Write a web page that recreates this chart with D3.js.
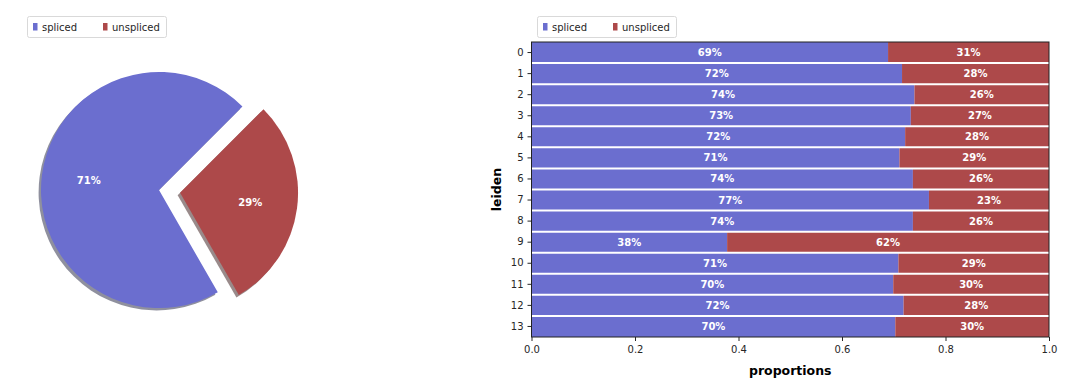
<!DOCTYPE html>
<html>
  <head>
    <meta charset="utf-8">
    <title>spliced / unspliced</title>
    <style>
      body { margin: 0; background: #fff; }
      text { font-family: "DejaVu Sans", sans-serif; }
      .tick text { font-size: 10px; fill: #262626; }
      .tick line { stroke: #262626; }
      .barLabel { fill: #fff; font-size: 10px; font-weight: bold; text-anchor: middle; }
      .pieLabel { fill: #fff; font-size: 10px; font-weight: bold; text-anchor: middle; }
      .axisTitle { font-size: 12.5px; font-weight: bold; fill: #000; text-anchor: middle; }
      .legText { font-size: 10px; fill: #262626; }
    </style>
  </head>
  <body>
    <svg id="chart"></svg>
    <script src="https://cdn.jsdelivr.net/npm/d3@7/dist/d3.min.js"></script>
    <script>
    var width = 1080;
    var height = 384;

    // data
    var layers = ["spliced", "unspliced"];
    var colors = ["#6b6ecf", "#ad494a"];
    var pieValues = [0.708, 0.292];
    var clusters = ["0", "1", "2", "3", "4", "5", "6", "7", "8", "9", "10", "11", "12", "13"];
    var splicedProp = [0.689, 0.716, 0.740, 0.733, 0.722, 0.711, 0.737, 0.768, 0.737, 0.378, 0.709, 0.699, 0.719, 0.703];
    var unsplicedProp = splicedProp.map(function(d) { return 1 - d; });
    var xTicks = [0, 0.2, 0.4, 0.6, 0.8, 1.0];

    var svg = d3.select("#chart")
        .attr("width", width)
        .attr("height", height);

    var fmtPct = d3.format(".0%");

    // legend
    function legend(x, y) {
      var g = svg.append("g").attr("transform", "translate(" + x + "," + y + ")");
      g.append("rect")
          .attr("x", 0.5).attr("y", 0.5)
          .attr("width", 139).attr("height", 21)
          .attr("rx", 2)
          .attr("fill", "#fff")
          .attr("stroke", "#d9d9d9");
      var offs = [6, 76];
      layers.forEach(function(name, i) {
        g.append("rect")
            .attr("x", offs[i]).attr("y", 7)
            .attr("width", 4.5).attr("height", 7.5)
            .attr("fill", colors[i]);
        g.append("text")
            .attr("class", "legText")
            .attr("x", offs[i] + 9).attr("y", 14.5)
            .text(name);
      });
    }
    legend(27, 16);
    legend(537, 16);

    // pie
    var cx = 159, cy = 190, r = 118, explode = [0, 0.18];
    var startDeg = 45;
    var pie = d3.pie().sort(null)
        .startAngle((90 - startDeg) * Math.PI / 180)
        .endAngle((90 - startDeg - 360) * Math.PI / 180);
    var arcs = pie(pieValues);
    var arc = d3.arc().innerRadius(0).outerRadius(r);

    function offset(d, i) {
      var mid = (d.startAngle + d.endAngle) / 2;
      return [Math.sin(mid) * explode[i] * r, -Math.cos(mid) * explode[i] * r];
    }

    var pieG = svg.append("g").attr("transform", "translate(" + cx + "," + cy + ")");

    // shadows
    pieG.selectAll(".shadow")
        .data(arcs)
        .enter()
        .append("path")
        .attr("class", "shadow")
        .attr("d", arc)
        .attr("fill", function(d, i) {
          var c = d3.rgb(colors[i]);
          return d3.rgb(c.r * 0.3, c.g * 0.3, c.b * 0.3);
        })
        .attr("opacity", 0.5)
        .attr("transform", function(d, i) {
          var o = offset(d, i);
          return "translate(" + (o[0] - 2.4) + "," + (o[1] + 2.4) + ")";
        });

    pieG.selectAll(".wedge")
        .data(arcs)
        .enter()
        .append("path")
        .attr("class", "wedge")
        .attr("d", arc)
        .attr("fill", function(d, i) { return colors[i]; })
        .attr("transform", function(d, i) {
          var o = offset(d, i);
          return "translate(" + o[0] + "," + o[1] + ")";
        });

    pieG.selectAll(".pieLabel")
        .data(arcs)
        .enter()
        .append("text")
        .attr("class", "pieLabel")
        .attr("x", function(d, i) {
          var mid = (d.startAngle + d.endAngle) / 2;
          return Math.sin(mid) * 0.6 * r + offset(d, i)[0];
        })
        .attr("y", function(d, i) {
          var mid = (d.startAngle + d.endAngle) / 2;
          return -Math.cos(mid) * 0.6 * r + offset(d, i)[1];
        })
        .attr("dy", "0.35em")
        .text(function(d) { return fmtPct(d.value); });

    // stacked bars
    var plot = { left: 531.5, right: 1049, top: 42, bottom: 337 };

    var x = d3.scaleLinear().domain([0, 1]).range([plot.left, plot.right]);
    var y = d3.scaleBand().domain(clusters).range([plot.top, plot.bottom]).padding(0);

    var series = [splicedProp, unsplicedProp];
    var barG = svg.append("g");

    series.forEach(function(vals, s) {
      barG.selectAll(".bar" + s)
          .data(vals)
          .enter()
          .append("rect")
          .attr("class", "bar" + s)
          .attr("x", function(d, i) { return s === 0 ? x(0) : x(splicedProp[i]); })
          .attr("y", function(d, i) { return y(clusters[i]); })
          .attr("width", function(d) { return x(d) - x(0); })
          .attr("height", y.bandwidth())
          .attr("fill", colors[s]);

      barG.selectAll(".lab" + s)
          .data(vals)
          .enter()
          .append("text")
          .attr("class", "barLabel")
          .attr("x", function(d, i) {
            var start = s === 0 ? 0 : splicedProp[i];
            return x(start + d / 2);
          })
          .attr("y", function(d, i) { return y(clusters[i]) + y.bandwidth() / 2; })
          .attr("dy", "0.35em")
          .text(function(d) { return fmtPct(d); });
    });

    // white separators between rows
    barG.selectAll(".sep")
        .data(clusters.slice(1))
        .enter()
        .append("line")
        .attr("x1", plot.left).attr("x2", plot.right)
        .attr("y1", function(d) { return y(d); })
        .attr("y2", function(d) { return y(d); })
        .attr("stroke", "#fff")
        .attr("stroke-width", 2);

    // frame
    svg.append("rect")
        .attr("x", plot.left).attr("y", plot.top)
        .attr("width", plot.right - plot.left)
        .attr("height", plot.bottom - plot.top)
        .attr("fill", "none")
        .attr("stroke", "#222")
        .attr("stroke-width", 1);

    var yAxis = svg.append("g")
        .attr("transform", "translate(" + plot.left + ",0)")
        .call(d3.axisLeft(y).tickSize(4).tickPadding(4));
    yAxis.select(".domain").remove();

    var xAxis = svg.append("g")
        .attr("transform", "translate(0," + plot.bottom + ")")
        .call(d3.axisBottom(x).tickValues(xTicks).tickFormat(d3.format(".1f")).tickSize(4).tickPadding(5));
    xAxis.select(".domain").remove();

    svg.append("text")
        .attr("class", "axisTitle")
        .attr("x", (plot.left + plot.right) / 2)
        .attr("y", 375)
        .text("proportions");

    svg.append("text")
        .attr("class", "axisTitle")
        .attr("transform", "translate(501," + ((plot.top + plot.bottom) / 2) + ") rotate(-90)")
        .text("leiden");
    </script>
  </body>
</html>
